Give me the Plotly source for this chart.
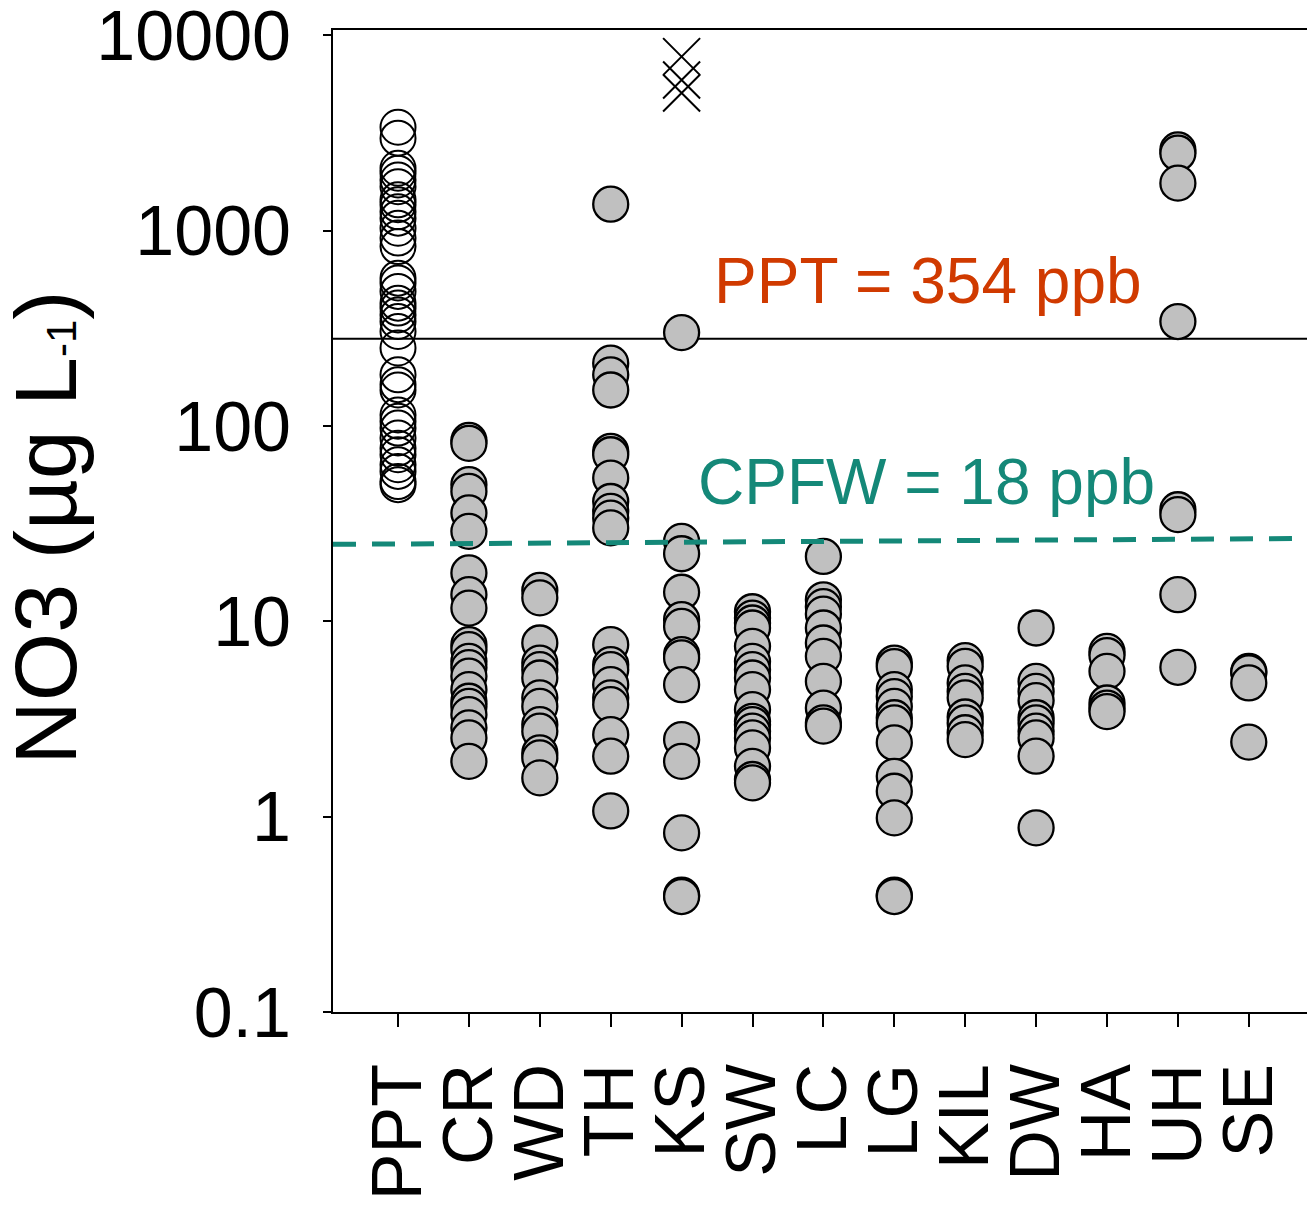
import plotly.graph_objects as go
import numpy as np

categories = ["PPT", "CR", "WD", "TH", "KS", "SW", "LC", "LG", "KIL", "DW", "HA", "UH", "SE"]

PPT = [3390, 2980, 2090, 1970, 1820, 1680, 1440, 1360, 1250, 1160, 1030, 917, 830,
       572, 540, 489, 426, 402, 371, 343, 305, 251, 183, 163, 153, 114, 106, 97.7,
       86.9, 77.1, 71.3, 63.4, 58.6, 52.0, 50.1]
CR = [84.4, 81.5, 50.1, 46.3, 35.9, 28.9, 17.7, 13.7, 11.7, 7.60, 7.16, 6.24, 5.80,
      5.24, 4.47, 3.90, 3.67, 3.33, 2.85, 2.53, 1.92]
WD = [14.4, 13.2, 7.75, 6.12, 5.66, 5.13, 4.06, 3.67, 2.96, 2.74, 2.12, 2.00, 1.58]
TH = [1368, 210, 183, 153, 74.3, 71.3, 54.2, 41.1, 36.6, 33.8, 30.1, 7.60, 6.00,
      5.66, 4.74, 4.06, 3.75, 2.63, 2.04, 1.07]
KS = [301, 25.7, 22.2, 14.1, 10.2, 9.42, 6.76, 6.50, 4.74, 2.48, 1.92, 0.826, 0.396, 0.39]
KS_outliers = [7790, 5920, 5080]
SW = [11.2, 10.4, 9.81, 9.25, 7.45, 6.24, 5.66, 5.13, 4.47, 3.53, 3.08, 2.96, 2.74,
      2.53, 2.25, 1.81, 1.55, 1.49]
LC = [21.5, 12.9, 11.9, 10.9, 9.25, 7.75, 6.62, 4.93, 3.60, 3.02, 2.91]
LG = [6.12, 5.86, 4.47, 4.12, 3.67, 3.21, 3.02, 2.39, 1.61, 1.35, 0.986, 0.396, 0.39]
KIL = [6.30, 5.89, 4.84, 4.38, 4.06, 3.24, 3.02, 2.69, 2.48]
DW = [9.25, 4.93, 4.38, 3.93, 3.21, 3.02, 2.74, 2.53, 2.04, 0.877]
HA = [7.02, 6.68, 5.55, 3.82, 3.60, 3.45]
UH = [2595, 2495, 1753, 343, 37.3, 35.2, 13.7, 5.82]
SE = [5.55, 5.45, 4.84, 2.41]

ppt_line_value = 280
cpfw_line_values = [24.8, 26.6]

ytick_vals = [0.1, 1, 10, 100, 1000, 10000]
ytick_text = ["0.1", "1", "10", "100", "1000", "10000"]

FONT = "Arial, Liberation Sans, sans-serif"
X_RANGE = [-0.917, 12.934]

fig = go.Figure()

# solid PPT line (behind markers)
fig.add_trace(go.Scatter(x=X_RANGE, y=[ppt_line_value, ppt_line_value], mode="lines",
                         line=dict(color="black", width=2), showlegend=False, hoverinfo="skip"))

# PPT open circles
fig.add_trace(go.Scatter(x=[0] * len(PPT), y=PPT, mode="markers",
                         marker=dict(symbol="circle-open", size=35, color="black",
                                     line=dict(color="black", width=2)),
                         showlegend=False))

groups = [CR, WD, TH, KS, SW, LC, LG, KIL, DW, HA, UH, SE]
gx, gy = [], []
for i, vals in enumerate(groups, start=1):
    gx += [i] * len(vals)
    gy += vals
fig.add_trace(go.Scatter(x=gx, y=gy, mode="markers",
                         marker=dict(symbol="circle", size=35, color="#C0C0C0",
                                     line=dict(color="black", width=2.3)),
                         showlegend=False))

# KS outliers as crosses
fig.add_trace(go.Scatter(x=[4] * len(KS_outliers), y=KS_outliers, mode="markers",
                         marker=dict(symbol="x-thin-open", size=37, color="black",
                                     line=dict(color="black", width=2)),
                         showlegend=False))

# dashed CPFW line (on top)
fig.add_trace(go.Scatter(x=X_RANGE, y=cpfw_line_values, mode="lines",
                         line=dict(color="#148878", width=5, dash="23px,16px"),
                         showlegend=False, hoverinfo="skip"))

fig.add_annotation(x=0.6064, y=0.7446, xref="paper", yref="paper",
                   text="PPT = 354 ppb", showarrow=False, xanchor="center", yanchor="middle",
                   font=dict(family=FONT, size=64, color="#D03A00"))
fig.add_annotation(x=0.6044, y=0.5397, xref="paper", yref="paper",
                   text="CPFW = 18 ppb", showarrow=False, xanchor="center", yanchor="middle",
                   font=dict(family=FONT, size=64, color="#148878"))
fig.add_annotation(x=-0.293, y=0.4934, xref="paper", yref="paper",
                   text="NO3 (µg L<span style='font-size:42px'>-1</span>)", showarrow=False,
                   textangle=-90, xanchor="center", yanchor="middle",
                   font=dict(family=FONT, size=88, color="black"))

fig.update_xaxes(range=X_RANGE, tickmode="array", tickvals=list(range(len(categories))),
                 ticktext=categories, tickangle=-90, ticks="outside", ticklen=13, tickwidth=2,
                 tickcolor="black", showline=True, linecolor="black", linewidth=2, mirror=True,
                 showgrid=False, zeroline=False, ticklabelstandoff=9, automargin=False,
                 ticklabeloverflow="allow",
                 tickfont=dict(family=FONT, size=70, color="black"))
fig.update_yaxes(type="log", range=[-1, 4.028], tickmode="array", tickvals=ytick_vals,
                 ticktext=ytick_text, ticks="outside", ticklen=8, tickwidth=2, tickcolor="black",
                 showline=True, linecolor="black", linewidth=2, mirror=False, showgrid=False,
                 zeroline=False, ticklabelstandoff=18, automargin=False,
                 ticklabeloverflow="allow",
                 tickfont=dict(family=FONT, size=70, color="black"))

# the page body adds an 8px offset, so the figure is sized to fill the 1315x1206 window
fig.update_layout(width=1307, height=1198, margin=dict(l=325, r=0, t=22, b=194, autoexpand=False),
                  plot_bgcolor="white", paper_bgcolor="white", showlegend=False,
                  font=dict(family=FONT))

fig.write_html("out.html")
